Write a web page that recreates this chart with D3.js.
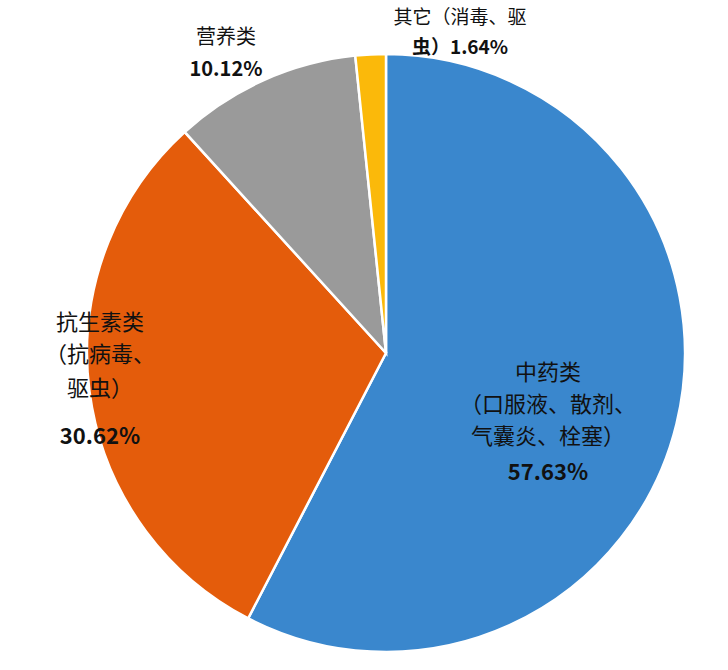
<!DOCTYPE html><html><head><meta charset="utf-8"><script src="https://cdn.jsdelivr.net/npm/d3@7"></script>
<style>body{margin:0;background:#fff}</style></head><body><svg width="728" height="670"></svg>
<script>
const categories=["中药类","抗生素类","营养类","其它"];
const values=[57.63,30.62,10.12,1.64];
const colors=["#3a87cd","#e45c0b","#9a9a9a","#fbb90a"];
const svg=d3.select("svg");
const g=svg.append("g").attr("transform","translate(386,353)");
const pie=d3.pie().sort(null)(values);
const arc=d3.arc().innerRadius(0).outerRadius(299);
g.selectAll("path").data(pie).join("path").attr("d",arc).attr("fill",(d,i)=>colors[i]).attr("stroke","#fff").attr("stroke-width",2.5);
const F="'Noto Sans CJK SC',sans-serif";
const labels=[
 {x:548,lines:["中药类","（口服液、散剂、","气囊炎、栓塞）",values[0].toFixed(2)+"%"],ys:[380,412,444,480],size:22,anchor:"middle"},
 {x:100,lines:["抗生素类","（抗病毒、","驱虫）",values[1].toFixed(2)+"%"],ys:[330,362,396,444],size:22,anchor:"middle"},
 {x:226,lines:["营养类",values[2].toFixed(2)+"%"],ys:[44,76],size:20,anchor:"middle"},
 {x:460,lines:["其它（消毒、驱","虫）"+values[3].toFixed(2)+"%"],ys:[24,54],size:19,anchor:"middle"}
];
labels.forEach(l=>l.lines.forEach((t,i)=>{
 svg.append("text").attr("x",l.x).attr("y",l.ys[i]).attr("text-anchor",l.anchor).attr("font-family",F)
  .attr("font-size",l.size).attr("font-weight",t.includes("%")?"bold":"normal").attr("fill","#111").text(t);
}));
</script></body></html>
